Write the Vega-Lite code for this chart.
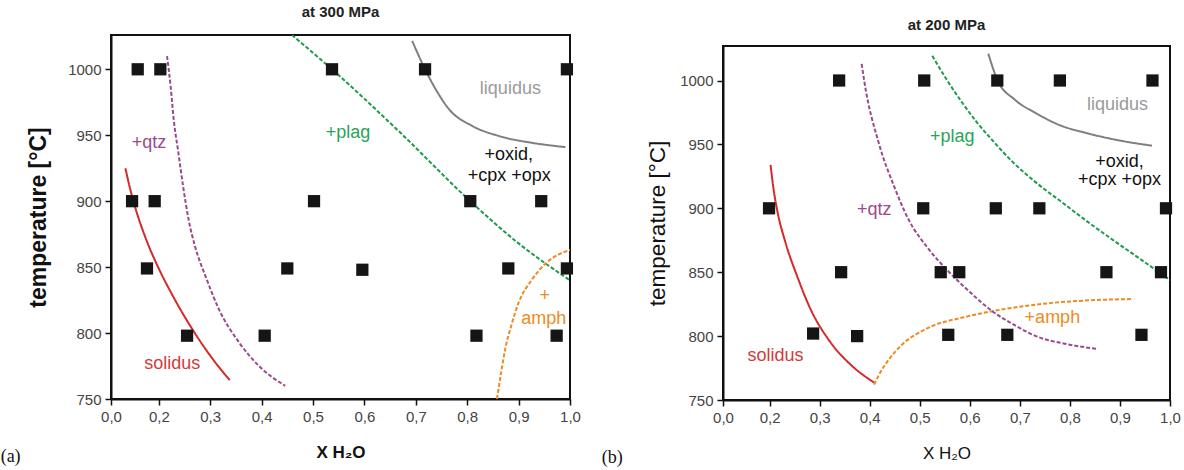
{
  "$schema": "https://vega.github.io/schema/vega-lite/v6.json",
  "padding": {"left": 0, "top": 4, "right": 0, "bottom": 0},
  "background": "white",
  "datasets": {
    "pts_a": [
      {"x": 0.159, "t": 1000}, {"x": 0.203, "t": 1000}, {"x": 0.537, "t": 1000}, {"x": 0.718, "t": 1000}, {"x": 0.994, "t": 1000},
      {"x": 0.148, "t": 900}, {"x": 0.192, "t": 900}, {"x": 0.502, "t": 900}, {"x": 0.806, "t": 900}, {"x": 0.944, "t": 900},
      {"x": 0.177, "t": 849}, {"x": 0.45, "t": 849}, {"x": 0.596, "t": 848}, {"x": 0.88, "t": 849}, {"x": 0.994, "t": 849},
      {"x": 0.255, "t": 798}, {"x": 0.406, "t": 798}, {"x": 0.818, "t": 798}, {"x": 0.974, "t": 798}
    ],
    "pts_b": [
      {"x": 0.339, "t": 1000}, {"x": 0.509, "t": 1000}, {"x": 0.655, "t": 1000}, {"x": 0.78, "t": 1000}, {"x": 0.965, "t": 1000},
      {"x": 0.199, "t": 900}, {"x": 0.507, "t": 900}, {"x": 0.652, "t": 900}, {"x": 0.739, "t": 900}, {"x": 0.992, "t": 900},
      {"x": 0.343, "t": 850}, {"x": 0.542, "t": 850}, {"x": 0.579, "t": 850}, {"x": 0.873, "t": 850}, {"x": 0.982, "t": 850},
      {"x": 0.287, "t": 802}, {"x": 0.375, "t": 800}, {"x": 0.557, "t": 801}, {"x": 0.675, "t": 801}, {"x": 0.943, "t": 801}
    ],
    "curves_a": [
      {"curve": "solidus", "x": 0.135, "t": 925}, {"curve": "solidus", "x": 0.144, "t": 909.7}, {"curve": "solidus", "x": 0.153, "t": 896.7},
      {"curve": "solidus", "x": 0.175, "t": 871.4}, {"curve": "solidus", "x": 0.2, "t": 848.9}, {"curve": "solidus", "x": 0.226, "t": 829.1},
      {"curve": "solidus", "x": 0.271, "t": 799.4}, {"curve": "solidus", "x": 0.307, "t": 779.2}, {"curve": "solidus", "x": 0.338, "t": 764.3},
      {"curve": "qtz", "x": 0.216, "t": 1010}, {"curve": "qtz", "x": 0.223, "t": 987}, {"curve": "qtz", "x": 0.229, "t": 962},
      {"curve": "qtz", "x": 0.238, "t": 937}, {"curve": "qtz", "x": 0.247, "t": 912}, {"curve": "qtz", "x": 0.258, "t": 886},
      {"curve": "qtz", "x": 0.271, "t": 865}, {"curve": "qtz", "x": 0.291, "t": 843}, {"curve": "qtz", "x": 0.317, "t": 818},
      {"curve": "qtz", "x": 0.356, "t": 793}, {"curve": "qtz", "x": 0.395, "t": 775}, {"curve": "qtz", "x": 0.446, "t": 760},
      {"curve": "plag", "x": 0.459, "t": 1026}, {"curve": "plag", "x": 0.537, "t": 1000}, {"curve": "plag", "x": 0.667, "t": 953},
      {"curve": "plag", "x": 0.806, "t": 900}, {"curve": "plag", "x": 0.9, "t": 868}, {"curve": "plag", "x": 1.0, "t": 840},
      {"curve": "liquidus", "x": 0.693, "t": 1021.5}, {"curve": "liquidus", "x": 0.718, "t": 1000}, {"curve": "liquidus", "x": 0.74, "t": 984},
      {"curve": "liquidus", "x": 0.764, "t": 970}, {"curve": "liquidus", "x": 0.81, "t": 957}, {"curve": "liquidus", "x": 0.861, "t": 949.5},
      {"curve": "liquidus", "x": 0.93, "t": 944}, {"curve": "liquidus", "x": 0.991, "t": 941},
      {"curve": "amph", "x": 0.858, "t": 750}, {"curve": "amph", "x": 0.866, "t": 770}, {"curve": "amph", "x": 0.874, "t": 788},
      {"curve": "amph", "x": 0.886, "t": 806}, {"curve": "amph", "x": 0.9, "t": 823}, {"curve": "amph", "x": 0.925, "t": 840},
      {"curve": "amph", "x": 0.955, "t": 853.6}, {"curve": "amph", "x": 0.98, "t": 860}, {"curve": "amph", "x": 1.0, "t": 863}
    ],
    "curves_b": [
      {"curve": "solidus", "x": 0.202, "t": 934}, {"curve": "solidus", "x": 0.208, "t": 915}, {"curve": "solidus", "x": 0.215, "t": 899},
      {"curve": "solidus", "x": 0.232, "t": 873}, {"curve": "solidus", "x": 0.255, "t": 847}, {"curve": "solidus", "x": 0.282, "t": 821},
      {"curve": "solidus", "x": 0.322, "t": 795}, {"curve": "solidus", "x": 0.365, "t": 776.6}, {"curve": "solidus", "x": 0.409, "t": 763.6},
      {"curve": "amph", "x": 0.409, "t": 762}, {"curve": "amph", "x": 0.419, "t": 770}, {"curve": "amph", "x": 0.439, "t": 782},
      {"curve": "amph", "x": 0.465, "t": 793.5}, {"curve": "amph", "x": 0.505, "t": 804}, {"curve": "amph", "x": 0.532, "t": 809},
      {"curve": "amph", "x": 0.58, "t": 814}, {"curve": "amph", "x": 0.645, "t": 819.5}, {"curve": "amph", "x": 0.7, "t": 823},
      {"curve": "amph", "x": 0.765, "t": 826}, {"curve": "amph", "x": 0.84, "t": 828}, {"curve": "amph", "x": 0.922, "t": 829},
      {"curve": "qtz", "x": 0.384, "t": 1013}, {"curve": "qtz", "x": 0.389, "t": 1000}, {"curve": "qtz", "x": 0.419, "t": 950},
      {"curve": "qtz", "x": 0.448, "t": 918}, {"curve": "qtz", "x": 0.478, "t": 891}, {"curve": "qtz", "x": 0.518, "t": 868},
      {"curve": "qtz", "x": 0.559, "t": 850}, {"curve": "qtz", "x": 0.6, "t": 834.5}, {"curve": "qtz", "x": 0.645, "t": 819.5},
      {"curve": "qtz", "x": 0.69, "t": 808.5}, {"curve": "qtz", "x": 0.732, "t": 800}, {"curve": "qtz", "x": 0.79, "t": 794},
      {"curve": "qtz", "x": 0.855, "t": 790},
      {"curve": "plag", "x": 0.525, "t": 1019.3}, {"curve": "plag", "x": 0.555, "t": 1000}, {"curve": "plag", "x": 0.585, "t": 982.6},
      {"curve": "plag", "x": 0.615, "t": 966.9}, {"curve": "plag", "x": 0.645, "t": 953.3}, {"curve": "plag", "x": 0.685, "t": 936.5},
      {"curve": "plag", "x": 0.735, "t": 919.3}, {"curve": "plag", "x": 0.785, "t": 904.5}, {"curve": "plag", "x": 0.835, "t": 889.6},
      {"curve": "plag", "x": 0.885, "t": 875.5}, {"curve": "plag", "x": 0.945, "t": 859.1}, {"curve": "plag", "x": 1.0, "t": 843.8},
      {"curve": "liquidus", "x": 0.637, "t": 1021}, {"curve": "liquidus", "x": 0.655, "t": 1000.6}, {"curve": "liquidus", "x": 0.69, "t": 985},
      {"curve": "liquidus", "x": 0.732, "t": 974.5}, {"curve": "liquidus", "x": 0.78, "t": 965}, {"curve": "liquidus", "x": 0.832, "t": 959},
      {"curve": "liquidus", "x": 0.9, "t": 953}, {"curve": "liquidus", "x": 0.964, "t": 949}
    ],
    "labels_a": [
      {"label": "+qtz", "curve": "qtz", "x": 0.181, "t": 944},
      {"label": "solidus", "curve": "solidus", "x": 0.226, "t": 776.5},
      {"label": "+plag", "curve": "plag", "x": 0.568, "t": 952},
      {"label": "liquidus", "curve": "liquidus", "x": 0.884, "t": 985},
      {"label": "+oxid,", "curve": "phase", "x": 0.881, "t": 935},
      {"label": "+cpx +opx", "curve": "phase", "x": 0.882, "t": 919},
      {"label": "+", "curve": "amph", "x": 0.951, "t": 828},
      {"label": "amph", "curve": "amph", "x": 0.949, "t": 811}
    ],
    "labels_b": [
      {"label": "+qtz", "curve": "qtz", "x": 0.409, "t": 898.4},
      {"label": "solidus", "curve": "solidus", "x": 0.212, "t": 784.4},
      {"label": "+plag", "curve": "plag", "x": 0.565, "t": 956},
      {"label": "liquidus", "curve": "liquidus", "x": 0.895, "t": 981},
      {"label": "+oxid,", "curve": "phase", "x": 0.899, "t": 936},
      {"label": "+cpx +opx", "curve": "phase", "x": 0.899, "t": 922},
      {"label": "+amph", "curve": "amph", "x": 0.765, "t": 814.4}
    ]
  },
  "hconcat": [
    {
      "title": {"text": "(a)", "orient": "bottom", "anchor": "start", "frame": "bounds", "font": "Liberation Serif", "fontSize": 18, "fontWeight": "normal", "color": "#111", "offset": -13, "dx": -26},
      "vconcat": [
        {
          "width": 459,
          "height": 364,
          "title": {"text": "at 300 MPa", "font": "Liberation Sans", "fontSize": 15, "fontWeight": "bold", "color": "#222", "offset": 15},
          "encoding": {
            "x": {"field": "x", "type": "quantitative",
              "scale": {"domain": [0.107, 1.0], "nice": false, "zero": false},
              "axis": {"title": "X H₂O", "titleFontSize": 17, "titleFontWeight": "bold", "titlePadding": 20,
                "values": [0.107, 0.2, 0.3, 0.4, 0.5, 0.6, 0.7, 0.8, 0.9, 1.0],
                "labelExpr": "datum.value < 0.15 ? '0,0' : replace(format(datum.value, '.1f'), '.', ',')",
                "labelFlush": false}},
            "y": {"field": "t", "type": "quantitative",
              "scale": {"domain": [750, 1026], "nice": false, "zero": false},
              "axis": {"title": "temperature [°C]", "titleFontSize": 23, "titleFontWeight": "bold", "titlePadding": 17,
                "format": "d", "values": [750, 800, 850, 900, 950, 1000]}}
          },
          "layer": [
            {
              "data": {"name": "curves_a"},
              "mark": {"type": "line", "strokeWidth": 2, "interpolate": "monotone", "clip": true},
              "encoding": {
                "color": {"field": "curve", "type": "nominal", "legend": null,
                  "scale": {"domain": ["solidus", "qtz", "plag", "liquidus", "amph"], "range": ["#d42a2a", "#9a4a8c", "#1f9a4f", "#7f7f7f", "#ef8a22"]}},
                "strokeDash": {"field": "curve", "type": "nominal", "legend": null,
                  "scale": {"domain": ["solidus", "qtz", "plag", "liquidus", "amph"], "range": [[1, 0], [4, 2], [4, 2], [1, 0], [4, 2]]}}
              }
            },
            {
              "data": {"name": "pts_a"},
              "mark": {"type": "square", "size": 150, "color": "#151515", "opacity": 1}
            },
            {
              "data": {"name": "labels_a"},
              "mark": {"type": "text", "fontSize": 18, "font": "Liberation Sans"},
              "encoding": {
                "text": {"field": "label"},
                "color": {"field": "curve", "type": "nominal", "legend": null,
                  "scale": {"domain": ["solidus", "qtz", "plag", "liquidus", "amph", "phase"], "range": ["#d43a3a", "#9a4a8c", "#2aa35a", "#9a9a9a", "#ef8a22", "#111111"]}}
              }
            }
          ],
          "resolve": {"scale": {"color": "independent"}}
        }
      ]
    },
    {
      "title": {"text": "(b)", "orient": "bottom", "anchor": "start", "frame": "bounds", "font": "Liberation Serif", "fontSize": 18, "fontWeight": "normal", "color": "#111", "offset": -13, "dx": -44},
      "spacing": 9,
      "vconcat": [
        {
          "width": 447,
          "height": 1,
          "view": {"stroke": null},
          "title": {"text": "at 200 MPa", "font": "Liberation Sans", "fontSize": 15, "fontWeight": "bold", "color": "#222", "offset": 2},
          "data": {"values": []},
          "mark": {"type": "point", "opacity": 0},
          "encoding": {}
        },
        {
          "width": 447,
          "height": 354,
          "encoding": {
            "x": {"field": "x", "type": "quantitative",
              "scale": {"domain": [0.107, 1.0], "nice": false, "zero": false},
              "axis": {"title": "X H₂O", "titleFontSize": 17, "titleFontWeight": "normal", "titlePadding": 20,
                "values": [0.107, 0.2, 0.3, 0.4, 0.5, 0.6, 0.7, 0.8, 0.9, 1.0],
                "labelExpr": "datum.value < 0.15 ? '0,0' : replace(format(datum.value, '.1f'), '.', ',')",
                "labelFlush": false}},
            "y": {"field": "t", "type": "quantitative",
              "scale": {"domain": [750, 1027], "nice": false, "zero": false},
              "axis": {"title": "temperature [°C]", "titleFontSize": 22.5, "titleFontWeight": "normal", "titlePadding": 10,
                "format": "d", "values": [750, 800, 850, 900, 950, 1000]}}
          },
          "layer": [
            {
              "data": {"name": "curves_b"},
              "mark": {"type": "line", "strokeWidth": 2, "interpolate": "monotone", "clip": true},
              "encoding": {
                "color": {"field": "curve", "type": "nominal", "legend": null,
                  "scale": {"domain": ["solidus", "qtz", "plag", "liquidus", "amph"], "range": ["#d42a2a", "#9a4a8c", "#1f9a4f", "#7f7f7f", "#ef8a22"]}},
                "strokeDash": {"field": "curve", "type": "nominal", "legend": null,
                  "scale": {"domain": ["solidus", "qtz", "plag", "liquidus", "amph"], "range": [[1, 0], [4, 2], [4, 2], [1, 0], [4, 2]]}}
              }
            },
            {
              "data": {"name": "pts_b"},
              "mark": {"type": "square", "size": 150, "color": "#151515", "opacity": 1}
            },
            {
              "data": {"name": "labels_b"},
              "mark": {"type": "text", "fontSize": 18, "font": "Liberation Sans"},
              "encoding": {
                "text": {"field": "label"},
                "color": {"field": "curve", "type": "nominal", "legend": null,
                  "scale": {"domain": ["solidus", "qtz", "plag", "liquidus", "amph", "phase"], "range": ["#d43a3a", "#9a4a8c", "#2aa35a", "#9a9a9a", "#ef8a22", "#111111"]}}
              }
            }
          ],
          "resolve": {"scale": {"color": "independent"}}
        }
      ]
    }
  ],
  "spacing": 19,
  "config": {
    "font": "Liberation Sans",
    "view": {"stroke": "#111111", "strokeWidth": 2},
    "axis": {
      "grid": false,
      "domainColor": "#111111",
      "domainWidth": 2,
      "tickColor": "#111111",
      "tickWidth": 1.5,
      "tickSize": 6,
      "labelColor": "#444444",
      "labelFontSize": 15,
      "labelFont": "Liberation Sans",
      "labelPadding": 4,
      "titleColor": "#111111",
      "titleFont": "Liberation Sans"
    }
  }
}
